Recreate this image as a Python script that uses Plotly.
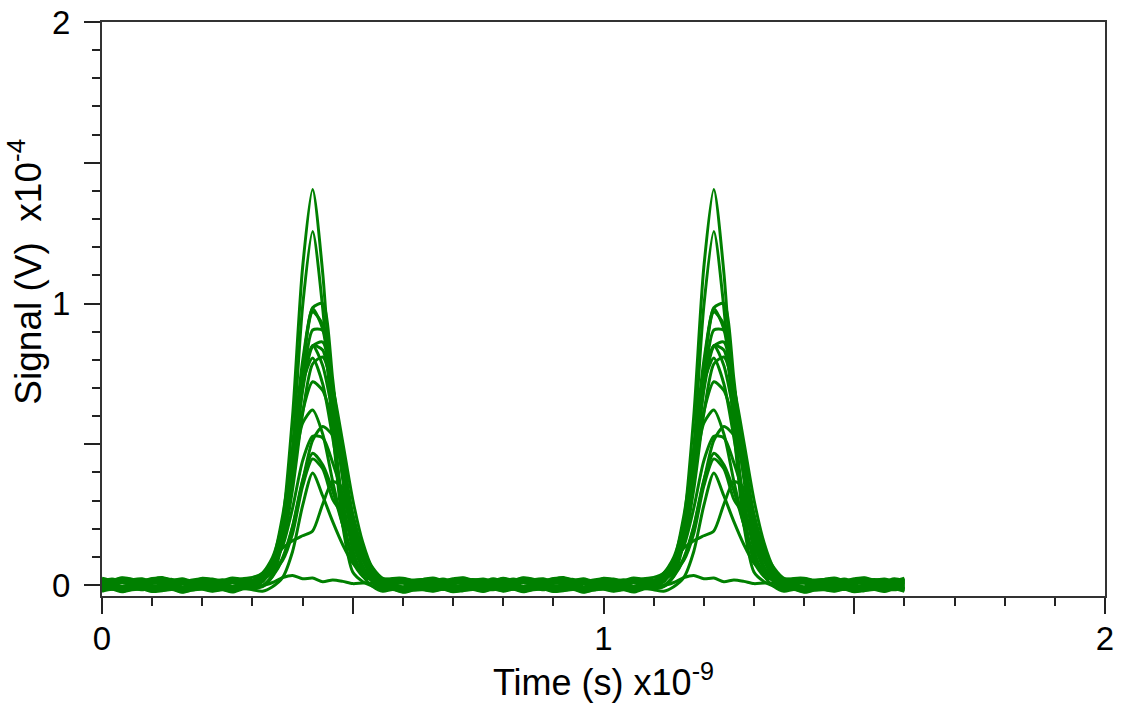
import numpy as np
import plotly.graph_objects as go

# Sampling grid of the recorded waveforms (ns), 0.02 ns steps over 1.6 ns
time_ns = np.round(np.arange(0, 1.6001, 0.02), 2)
period_steps = 40            # pulse repetition: 0.8 ns = 40 samples
first_pulse_start = 14       # sample index of t = 0.28 ns

# Pulse window sample times (ns) for the first pulse: 0.28 ... 0.60
pulse_t = [0.28, 0.30, 0.32, 0.34, 0.36, 0.38, 0.40, 0.42, 0.44,
           0.46, 0.48, 0.50, 0.52, 0.54, 0.56, 0.58, 0.60]

# Pulse amplitudes for every recorded trace (x1e-4 V) at pulse_t
pulse_a = [0, .01, .02, .06, .22, .60, 1.12, 1.40, 1.10, .62, .26, .08, .02, .01, 0, 0, 0]
pulse_b = [0, 0, .01, .04, .16, .50, 1.00, 1.26, 1.00, .56, .22, .06, .02, 0, 0, 0, 0]
pulse_c1 = [0, 0, .02, .05, .16, .40, .74, .97, .98, .72, .38, .14, .04, .01, 0, 0, 0]
pulse_c2 = [0, .01, .03, .08, .22, .48, .80, .98, .92, .66, .38, .17, .06, .02, 0, 0, 0]
pulse_c3 = [0, 0, .02, .06, .18, .42, .75, .95, .90, .68, .42, .20, .07, .02, 0, 0, 0]
pulse_c4 = [0, 0, .02, .05, .15, .38, .70, .90, .91, .70, .44, .22, .09, .03, .01, 0, 0]
pulse_c5 = [0, .01, .03, .07, .19, .42, .70, .86, .87, .72, .48, .26, .11, .04, .01, 0, 0]
pulse_d1 = [0, .01, .03, .08, .22, .46, .74, .86, .80, .62, .40, .20, .08, .02, 0, 0, 0]
pulse_d2 = [0, 0, .02, .06, .18, .42, .70, .84, .82, .64, .42, .22, .09, .03, .01, 0, 0]
pulse_d3 = [0, .01, .04, .10, .26, .50, .74, .82, .74, .54, .32, .15, .05, .01, 0, 0, 0]
pulse_d4 = [0, 0, .02, .05, .14, .34, .60, .78, .80, .70, .50, .30, .14, .05, .01, 0, 0]
pulse_d5 = [0, .01, .03, .08, .20, .40, .60, .70, .68, .56, .40, .24, .11, .04, .01, 0, 0]
pulse_e1 = [0, 0, .02, .06, .18, .38, .56, .61, .52, .36, .20, .09, .03, .01, 0, 0, 0]
pulse_e2 = [0, 0, .01, .04, .10, .22, .38, .52, .58, .54, .42, .26, .12, .04, .01, 0, 0]
pulse_e3 = [0, 0, .02, .05, .12, .26, .42, .51, .50, .42, .30, .18, .08, .03, .01, 0, 0]
pulse_f1 = [0, 0, .01, .04, .10, .22, .38, .47, .44, .34, .22, .12, .05, .02, 0, 0, 0]
pulse_f2 = [0, 0, .01, .03, .08, .18, .34, .44, .40, .30, .24, .16, .08, .03, .01, 0, 0]
pulse_f3 = [0, 0, 0, .01, .04, .14, .30, .41, .34, .24, .16, .10, .06, .03, .01, 0, 0]
pulse_g = [0, .01, .03, .08, .13, .16, .17, .19, .28, .37, .34, .20, .08, .02, 0, 0, 0]
pulse_h = [0, 0, .005, .01, .025, .04, .025, .022, .02, .018, .015, .012, .008, .004, 0, 0, 0]

# Baseline offset of each trace (x1e-4 V)
baseline_levels = [0.005, -0.010, 0.015, -0.005, 0.020, 0.000, -0.012, -0.015, 0.010,
                   -0.020, 0.005, 0.016, 0.012, -0.012, 0.018, -0.008, 0.008, -0.018,
                   0.002, -0.003]

# Baseline ripple over one 0.8 ns period (x1e-4 V)
noise_a = [0.004, -0.003, 0.006, 0.001, -0.005, 0.003, 0.007, -0.002, 0.002, -0.006,
           0.004, 0.001, -0.004, 0.005, 0.000, -0.003, 0.002, 0.006, -0.001, -0.005,
           0.003, 0.000, 0.005, -0.004, 0.002, -0.002, 0.006, 0.001, -0.006, 0.003,
           0.004, -0.003, 0.000, 0.005, -0.004, 0.002, 0.006, -0.002, 0.001, -0.005]
noise_b = [-0.002, 0.005, -0.004, 0.003, 0.006, -0.003, 0.000, 0.004, -0.006, 0.002,
           0.005, -0.002, 0.003, -0.005, 0.006, 0.001, -0.004, 0.002, 0.004, -0.003,
           0.000, 0.006, -0.005, 0.003, 0.001, -0.004, 0.002, 0.005, -0.002, 0.004,
           -0.006, 0.001, 0.003, -0.002, 0.005, -0.004, 0.000, 0.004, -0.003, 0.006]

pulses = [pulse_a, pulse_b, pulse_c1, pulse_c2, pulse_c3, pulse_c4, pulse_c5, pulse_d1,
          pulse_d2, pulse_d3, pulse_d4, pulse_d5, pulse_e1, pulse_e2, pulse_e3, pulse_f1,
          pulse_f2, pulse_f3, pulse_g, pulse_h]

GREEN = "#008000"
FONT = "Liberation Sans, Arial, sans-serif"


def build_waveform(pulse, level, noise):
    """Assemble a two-pulse record: baseline ripple plus the pulse repeated each period."""
    y = np.array([level + noise[i % period_steps] for i in range(len(time_ns))])
    for start in (first_pulse_start, first_pulse_start + period_steps):
        y[start:start + len(pulse)] += np.array(pulse)
    return y


fig = go.Figure()
for k, (pulse, level) in enumerate(zip(pulses, baseline_levels)):
    noise = noise_a if k % 2 == 0 else noise_b
    fig.add_trace(go.Scatter(
        x=time_ns, y=build_waveform(pulse, level, noise),
        mode="lines",
        line=dict(color=GREEN, width=3, shape="spline", smoothing=0.7),
        hoverinfo="skip",
    ))

axis_common = dict(
    tickmode="array",
    tickvals=[0, 0.5, 1, 1.5, 2],
    ticktext=["0", "", "1", "", "2"],
    ticks="outside", ticklen=16, tickwidth=2, tickcolor="#222",
    minor=dict(tickmode="linear", tick0=0, dtick=0.1, ticks="outside",
               ticklen=8, tickwidth=2, tickcolor="#222"),
    showline=True, linecolor="#333", linewidth=2, mirror=True,
    showgrid=False, zeroline=False,
    tickfont=dict(size=33, color="black", family=FONT),
)

fig.update_xaxes(range=[0, 2], ticklabelstandoff=-4,
                 title=dict(text="Time (s) x10<sup>-9</sup>",
                            font=dict(size=36, color="black", family=FONT), standoff=6),
                 **axis_common)
fig.update_yaxes(range=[-0.039, 2.0], ticklabelstandoff=7, **axis_common)

# Vertical axis title, placed left of the tick labels
fig.add_annotation(
    text="Signal (V)&nbsp;&nbsp;x10<sup>-4</sup>", textangle=-90,
    xref="paper", yref="paper", x=-0.0758, y=0.565,
    xanchor="center", yanchor="middle", showarrow=False,
    font=dict(size=37, color="black", family=FONT),
)

fig.update_layout(
    width=1121, height=716,
    margin=dict(l=102, r=16, t=22, b=120, autoexpand=False),
    plot_bgcolor="white", paper_bgcolor="white",
    font=dict(family=FONT, color="black"),
    showlegend=False,
)

fig.write_html("out.html")
